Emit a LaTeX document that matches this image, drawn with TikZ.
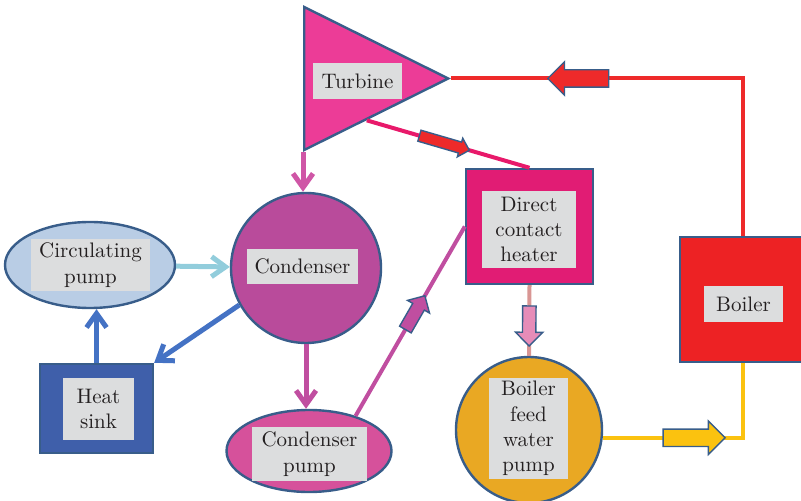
\documentclass[tikz,border=0pt]{standalone}
\usepackage{xcolor}
\usepackage{tikz}
\usetikzlibrary{positioning,arrows.meta,shapes.geometric,shapes.arrows,calc}
\definecolor{edgeBlue}{HTML}{385D8A}
\definecolor{labelGray}{HTML}{DCDDDE}
\definecolor{textDark}{HTML}{231F20}
\definecolor{turbPink}{HTML}{EC3C97}
\definecolor{condPurple}{HTML}{B94B9B}
\definecolor{circBlue}{HTML}{B9CDE5}
\definecolor{sinkBlue}{HTML}{3F5FAA}
\definecolor{pumpPink}{HTML}{D6519B}
\definecolor{heatMagenta}{HTML}{E11C74}
\definecolor{feedOrange}{HTML}{E9A823}
\definecolor{boilRed}{HTML}{ED2224}
\definecolor{steamRed}{HTML}{EE2A2A}
\definecolor{bleedPink}{HTML}{E8196A}
\definecolor{lineMagenta}{HTML}{C04EA0}
\definecolor{dropPink}{HTML}{CF56A6}
\definecolor{coolBlue}{HTML}{92CDDC}
\definecolor{sinkArrow}{HTML}{4472C4}
\definecolor{drainPink}{HTML}{D99694}
\definecolor{drainArrow}{HTML}{E68CB8}
\definecolor{feedYellow}{HTML}{FBC20F}

\begin{document}
\begin{tikzpicture}[
    x=0.5pt, y=-0.5pt,
    unit/.style={
        draw=edgeBlue,
        line width=1.2pt,
        inner sep=0pt
    },
    tag/.style={
        fill=labelGray,
        inner sep=0pt,
        align=center,
        text=textDark,
        font=\fontsize{10.5}{12.7}\selectfont
    },
    pipe/.style={line width=2pt},
    flow/.style={
        line width=2.5pt,
        -{Straight Barb[length=7pt,width=10pt]}
    },
    fatarrow/.style={
        single arrow,
        draw=edgeBlue,
        line width=0.7pt,
        inner xsep=0pt,
        sloped,
        allow upside down
    }
]
\useasboundingbox (0,0) rectangle (801,501);

\node[unit, isosceles triangle, isosceles triangle stretches, minimum width=71.5pt, minimum height=72pt, fill=turbPink, anchor=lower side] (turb) at (303,78.5) {};
\node[unit, circle, minimum size=75pt, fill=condPurple] (cond) at (306,268) {};
\node[unit, ellipse, minimum width=85pt, minimum height=43pt, fill=circBlue] (circ) at (90,265) {};
\node[unit, minimum width=56.5pt, minimum height=44.5pt, fill=sinkBlue] (sink) at (96.5,408.5) {};
\node[unit, ellipse, minimum width=82.5pt, minimum height=41pt, fill=pumpPink] (cpump) at (309,451) {};
\node[unit, minimum width=63.5pt, minimum height=57.5pt, fill=heatMagenta] (heat) at (529.5,226.5) {};
\node[unit, circle, minimum size=73pt, fill=feedOrange] (bfwp) at (529,430) {};
\node[unit, minimum width=63pt, minimum height=62.5pt, fill=boilRed] (boil) at (743,299.5) {};

\node[tag, minimum width=44.5pt, minimum height=18pt] (turbTag) at (357.5,81) {Turbine};
\node[tag, minimum width=55.5pt, minimum height=17.5pt] (condTag) at (302.5,266.5) {Condenser};
\node[tag, minimum width=59.5pt, minimum height=26pt] (circTag) at (90.5,265) {Circulating\\pump};
\node[tag, minimum width=35.5pt, minimum height=31pt] (sinkTag) at (98.5,409) {Heat\\sink};
\node[tag, minimum width=57.5pt, minimum height=27pt] (cpumpTag) at (309.5,454) {Condenser\\pump};
\node[tag, minimum width=47pt, minimum height=38.5pt] (heatTag) at (529,229.5) {Direct\\contact\\heater};
\node[tag, minimum width=39.5pt, minimum height=50.5pt] (bfwpTag) at (528.5,428.5) {Boiler\\feed\\water\\pump};
\node[tag, minimum width=39.5pt, minimum height=18pt] (boilTag) at (743.5,304) {Boiler};

\draw[pipe, steamRed] (boil.north) |- node[fatarrow, fill=steamRed, pos=0.775, minimum height=30.5pt, inner ysep=4pt, single arrow head extend=4pt] (steamArr) {} (turb.apex);
\draw[pipe, bleedPink] ($(turb.right corner)!0.43!(turb.apex)$) -- node[fatarrow, fill=steamRed, pos=0.46, minimum height=26pt, inner ysep=2.5pt, single arrow head extend=2pt] (bleedArr) {} (heat.north);
\draw[pipe, lineMagenta] (cpump.37) -- node[fatarrow, fill=lineMagenta, pos=0.53, minimum height=19.5pt, inner ysep=3pt, single arrow head extend=3pt] (condArr) {} (heat.west);
\draw[pipe, drainPink] (heat.south) -- node[fatarrow, fill=drainArrow, pos=0.53, minimum height=20pt, inner ysep=3pt, single arrow head extend=3.5pt] (drainArr) {} (bfwp.north);
\draw[pipe, feedYellow] (bfwp.-6) -| node[fatarrow, fill=feedYellow, pos=0.31, minimum height=31pt, inner ysep=4pt, single arrow head extend=4pt] (feedArr) {} (boil.south);

\draw[flow, dropPink] (turb.right corner) -- (turb.right corner |- cond.north);
\draw[flow, lineMagenta] (cond.south) -- (cond.south |- cpump.north);
\draw[flow, coolBlue] (circ) -- (cond);
\draw[flow, sinkArrow] (cond.209) -- (sink.north east);
\draw[flow, sinkArrow] (sink.north) -- (sink.north |- circ.south);
\end{tikzpicture}
\end{document}
